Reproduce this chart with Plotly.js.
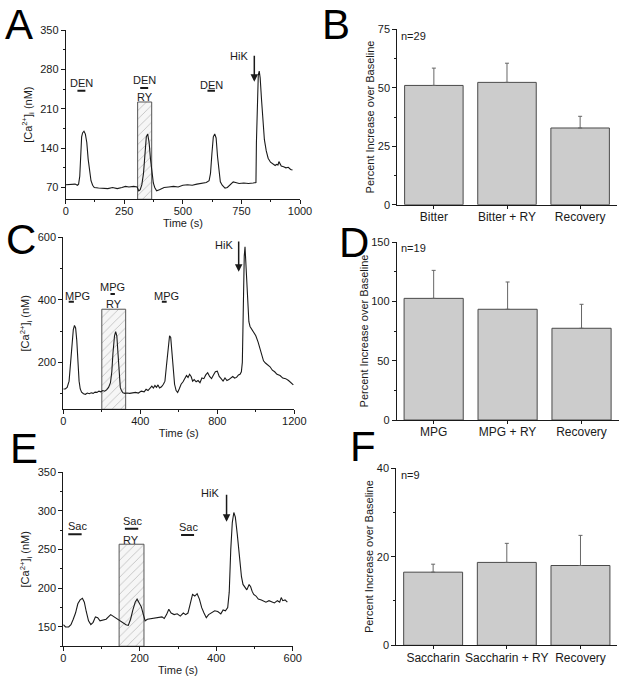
<!DOCTYPE html>
<html>
<head>
<meta charset="utf-8">
<script src="https://cdn.plot.ly/plotly-3.0.1.min.js"></script>
<style>html,body{margin:0;padding:0;background:#fff;}#chart{width:625px;height:686px;}</style>
</head>
<body>
<div id="chart"></div>
<script>
// ---------- Panel A : DEN (bitter) trace ----------
const timeA = [0,20,40,50,55,60,64,68,72,78,84,90,96,102,108,115,122,140,160,180,200,220,240,255,270,290,305,312,318,325,332,338,344,350,356,362,368,374,380,388,400,420,440,460,480,500,520,540,560,580,600,612,618,624,630,636,642,648,654,660,668,680,690,700,715,725,740,760,780,800,812,814,818,822,826,830,836,842,848,856,864,874,884,894,900,906,910,914,920,930,940,950,960,968];
const caA =   [75,75,76,74,76,90,130,160,167,170,165,150,120,95,82,74,70,69,69,68,70,68,70,72,71,72,71,64,66,75,95,130,160,165,150,120,95,78,70,64,66,70,71,72,71,74,75,74,76,78,79,82,95,130,160,165,158,125,95,80,74,69,70,74,80,79,77,78,77,78,79,150,240,270,277,265,225,185,155,135,122,115,112,109,111,110,116,112,108,107,105,106,102,101];
// ---------- Panel C : MPG trace ----------
const timeC = [0,10,20,30,38,45,52,58,64,70,76,82,88,95,105,115,125,135,145,155,165,175,185,195,205,215,225,235,245,252,258,266,272,278,284,290,296,302,310,320,330,345,360,375,390,405,420,430,440,450,460,468,476,484,492,500,510,520,528,536,544,552,558,564,570,578,586,594,602,612,622,632,640,648,656,664,672,680,690,700,710,720,730,740,750,760,770,780,790,800,810,820,830,840,850,860,870,880,890,900,910,918,925,930,933,936,940,944,948,952,958,964,970,985,1000,1012,1022,1032,1040,1050,1062,1074,1086,1098,1110,1126,1140,1155,1170,1182,1195];
const caC =   [115,115,120,140,200,270,305,318,310,270,200,140,115,105,100,98,102,100,103,101,105,104,108,106,110,108,112,120,135,170,230,285,298,285,230,160,120,110,103,101,102,101,103,104,102,108,106,114,110,118,124,118,126,120,128,118,122,130,140,190,250,285,280,240,180,130,110,104,115,130,138,148,158,152,162,155,140,145,138,142,135,150,148,160,167,155,148,160,170,172,155,148,140,150,142,145,150,155,150,152,160,162,170,200,300,440,540,570,520,450,380,330,315,300,285,265,240,215,205,198,192,186,175,170,162,158,150,148,142,135,128];
// ---------- Panel E : Saccharin trace ----------
const timeE = [0,6,14,20,26,32,38,44,50,55,60,66,72,78,84,90,96,104,112,118,124,130,136,142,150,158,164,170,176,182,188,193,198,204,210,214,220,230,240,250,258,264,270,276,282,290,298,306,314,320,326,332,338,344,350,356,362,368,374,380,388,396,404,412,418,424,430,434,438,442,446,450,455,460,466,470,476,480,486,490,494,498,504,510,518,524,530,538,546,552,560,566,570,574,580,586];
const caE =   [153,150,150,153,160,168,180,185,187,182,170,158,153,156,163,162,158,159,160,163,166,164,162,160,158,155,153,152,160,172,182,186,182,176,165,158,160,161,162,163,163,161,166,173,168,166,167,164,168,166,168,180,192,190,193,186,175,168,162,166,169,171,170,167,172,171,175,195,250,285,298,292,270,245,215,205,200,198,205,202,196,192,190,186,185,183,182,184,182,181,184,182,188,184,185,182];

// ---------- Bar panels ----------
const catsB = ['Bitter', 'Bitter + RY', 'Recovery'];
const meanB = [51.0, 52.3, 32.8];
const errB  = [7.4, 8.2, 5.0];
const catsD = ['MPG', 'MPG + RY', 'Recovery'];
const meanD = [102.5, 93.3, 77.3];
const errD  = [23.6, 23.0, 20.2];
const catsF = ['Saccharin', 'Saccharin + RY', 'Recovery'];
const meanF = [16.5, 18.7, 18.0];
const errF  = [1.8, 4.3, 6.8];
const nLabels = ['n=29', 'n=19', 'n=9'];

// ---------- Stimulus annotations ----------
const stimTextA = ['DEN', 'DEN', 'DEN'];
const stimTextXA = [68, 336, 623];
const stimTextYA = [256, 261, 253];
const stimBarX0A = [50, 318, 605];
const stimBarX1A = [84, 352, 637];
const stimBarYA  = [242, 247, 242];
const ryBoxA = [307, 367, 222];      // start, end, top
const ryTextA = [337, 231];
const hikA = [805, 307, 258, 787, 304]; // arrow x, tail y, tip y, text x (right end), text y

const stimTextC = ['MPG', 'MPG', 'MPG'];
const stimTextXC = [72, 258, 535];
const stimTextYC = [412, 442, 412];
const stimBarX0C = [28, 245, 512];
const stimBarX1C = [55, 268, 537];
const stimBarYC  = [394, 419, 394];
const ryBoxC = [200, 324, 370];
const ryTextC = [262, 387];
const hikC = [911, 591, 490, 892, 575];

const stimTextE = ['Sac', 'Sac', 'Sac'];
const stimTextXE = [38, 180, 327];
const stimTextYE = [281, 287, 279];
const stimBarX0E = [13, 161, 308];
const stimBarX1E = [48, 196, 342];
const stimBarYE  = [270, 277, 269];
const ryBoxE = [146, 211, 257];
const ryTextE = [178, 263];
const hikE = [427, 323, 286, 412, 323];

const rangeA = [49, 350], rangeC = [50, 600], rangeE = [125, 350];

const FONT = 'Liberation Sans, Arial, sans-serif';
const INK = '#1a1a1a';

function pxX(a, b) { return [a / 625, b / 625]; }
function pxY(top, bottom) { return [1 - bottom / 686, 1 - top / 686]; }

function baseAxis(extra) {
  return Object.assign({
    showline: true, linecolor: INK, linewidth: 1, mirror: false,
    ticks: 'outside', ticklen: 4, tickwidth: 1, tickcolor: INK,
    showgrid: false, zeroline: false,
    tickfont: {family: FONT, size: 11, color: INK},
    fixedrange: true
  }, extra);
}

const traces = [];
function ryTrace(box, rng, xa, ya) {
  traces.push({
    type: 'scatter', mode: 'lines', xaxis: xa, yaxis: ya,
    x: [box[0], box[1], box[1], box[0], box[0]],
    y: [rng[0], rng[0], box[2], box[2], rng[0]],
    fill: 'toself', fillcolor: '#f4f4f4',
    fillpattern: {shape: '/', fgcolor: '#a8a8a8', bgcolor: '#f6f6f6', size: 6, solidity: 0.1},
    line: {color: '#555', width: 1}, hoverinfo: 'skip'
  });
}
function lineTrace(x, y, xa, ya) {
  traces.push({type: 'scatter', mode: 'lines', x: x, y: y, xaxis: xa, yaxis: ya,
    line: {color: INK, width: 1.1}, hoverinfo: 'skip'});
}
function barTrace(cats, mean, err, xa, ya) {
  traces.push({type: 'bar', x: cats, y: mean, xaxis: xa, yaxis: ya,
    marker: {color: '#cccccc', line: {color: '#4a4a4a', width: 1}},
    error_y: {type: 'data', symmetric: false, array: err, arrayminus: err.map(() => 0),
      color: '#666', thickness: 1, width: 2},
    hoverinfo: 'skip'});
}

ryTrace(ryBoxA, rangeA, 'x', 'y');
lineTrace(timeA, caA, 'x', 'y');
barTrace(catsB, meanB, errB, 'x2', 'y2');
ryTrace(ryBoxC, rangeC, 'x3', 'y3');
lineTrace(timeC, caC, 'x3', 'y3');
barTrace(catsD, meanD, errD, 'x4', 'y4');
ryTrace(ryBoxE, rangeE, 'x5', 'y5');
lineTrace(timeE, caE, 'x5', 'y5');
barTrace(catsF, meanF, errF, 'x6', 'y6');

const annotations = [];
const shapes = [];
function stimAnn(texts, tx, ty, bx0, bx1, by, ry, hik, xa, ya) {
  for (let i = 0; i < texts.length; i++) {
    annotations.push({xref: xa, yref: ya, x: tx[i], y: ty[i], text: texts[i], showarrow: false,
      font: {family: FONT, size: 11, color: INK}, xanchor: 'center', yanchor: 'middle'});
    shapes.push({type: 'line', xref: xa, yref: ya, x0: bx0[i], x1: bx1[i], y0: by[i], y1: by[i],
      line: {color: INK, width: 2}});
  }
  annotations.push({xref: xa, yref: ya, x: ry[0], y: ry[1], text: 'RY', showarrow: false,
    font: {family: FONT, size: 11, color: INK}, xanchor: 'center', yanchor: 'middle'});
  // HiK label with its arrow (arrow drawn from the label position)
  annotations.push({xref: xa, yref: ya, x: hik[0], y: hik[2], ax: hik[0], ay: hik[1],
    axref: xa, ayref: ya, text: '', showarrow: true, arrowhead: 2, arrowsize: 1, arrowwidth: 1.5,
    arrowcolor: INK, standoff: 0});
  annotations.push({xref: xa, yref: ya, x: hik[3], y: hik[4], text: 'HiK', showarrow: false,
    font: {family: FONT, size: 11, color: INK}, xanchor: 'right', yanchor: 'middle'});
}
stimAnn(stimTextA, stimTextXA, stimTextYA, stimBarX0A, stimBarX1A, stimBarYA, ryTextA, hikA, 'x', 'y');
stimAnn(stimTextC, stimTextXC, stimTextYC, stimBarX0C, stimBarX1C, stimBarYC, ryTextC, hikC, 'x3', 'y3');
stimAnn(stimTextE, stimTextXE, stimTextYE, stimBarX0E, stimBarX1E, stimBarYE, ryTextE, hikE, 'x5', 'y5');

// n labels
[['x2', 'y2', 0.96], ['x4', 'y4', 0.965], ['x6', 'y6', 0.96]].forEach((r, i) => {
  annotations.push({xref: r[0] + ' domain', yref: r[1] + ' domain', x: 0.01, y: r[2],
    text: nLabels[i], showarrow: false, xanchor: 'left', yanchor: 'middle',
    font: {family: FONT, size: 11, color: INK}});
});

// panel letters (top-anchored)
const letters = ['A', 'B', 'C', 'D', 'E', 'F'];
const letterPos = [[4, 0], [321, 0], [5, 215], [338, 218], [9, 424], [349, 422]];
letters.forEach((L, i) => {
  annotations.push({xref: 'paper', yref: 'paper', x: letterPos[i][0] / 625, y: 1 - letterPos[i][1] / 686,
    text: L, showarrow: false, xanchor: 'left', yanchor: 'top', borderpad: 0,
    font: {family: FONT, size: 42, color: '#000'}});
});

const caTitle = {text: '[Ca<sup>2+</sup>]<sub>i</sub> (nM)', font: {family: FONT, size: 11, color: INK}, standoff: 5};
const pctTitle = {text: 'Percent Increase over Baseline', font: {family: FONT, size: 11, color: INK}, standoff: 0};
const timeTitle = {text: 'Time (s)', font: {family: FONT, size: 11, color: INK}, standoff: 3};

const xTimeExtra = {ticklabelstandoff: -3};
const catExtra = {ticklen: 3, ticklabelstandoff: -2, tickfont: {family: FONT, size: 12, color: INK}};

const layout = {
  width: 625, height: 686,
  margin: {l: 0, r: 0, t: 0, b: 0},
  paper_bgcolor: '#fff', plot_bgcolor: 'rgba(0,0,0,0)',
  showlegend: false, bargap: 0.2,
  font: {family: FONT, color: INK},
  xaxis: baseAxis(Object.assign({domain: pxX(65.7, 300), anchor: 'y', range: [0, 1000], tick0: 0, dtick: 250,
    minor: {ticks: 'outside', ticklen: 2, tickcolor: INK, dtick: 125}, title: timeTitle}, xTimeExtra)),
  yaxis: baseAxis({domain: pxY(30, 199.3), anchor: 'x', range: rangeA, tick0: 0, dtick: 70,
    minor: {ticks: 'outside', ticklen: 2, tickcolor: INK, dtick: 35}, title: caTitle}),
  xaxis2: baseAxis(Object.assign({domain: pxX(397.3, 616.7), anchor: 'y2', range: [-0.5, 2.5]}, catExtra)),
  yaxis2: baseAxis({domain: pxY(29.3, 204.7), anchor: 'x2', range: [0, 75], tick0: 0, dtick: 25,
    minor: {ticks: 'outside', ticklen: 2, tickcolor: INK, dtick: 12.5}, title: pctTitle}),
  xaxis3: baseAxis(Object.assign({domain: pxX(63.3, 294.3), anchor: 'y3', range: [0, 1200], tick0: 0, dtick: 400,
    minor: {ticks: 'outside', ticklen: 2, tickcolor: INK, dtick: 200}, title: timeTitle}, xTimeExtra)),
  yaxis3: baseAxis({domain: pxY(237.3, 409.3), anchor: 'x3', range: rangeC, tick0: 0, dtick: 200,
    minor: {ticks: 'outside', ticklen: 2, tickcolor: INK, dtick: 100}, title: caTitle}),
  xaxis4: baseAxis(Object.assign({domain: pxX(396.7, 618.5), anchor: 'y4', range: [-0.5, 2.5]}, catExtra)),
  yaxis4: baseAxis({domain: pxY(242, 420), anchor: 'x4', range: [0, 150], tick0: 0, dtick: 50,
    minor: {ticks: 'outside', ticklen: 2, tickcolor: INK, dtick: 25}, title: pctTitle}),
  xaxis5: baseAxis(Object.assign({domain: pxX(63.3, 292.7), anchor: 'y5', range: [0, 600], tick0: 0, dtick: 200,
    minor: {ticks: 'outside', ticklen: 2, tickcolor: INK, dtick: 100}, title: timeTitle}, xTimeExtra)),
  yaxis5: baseAxis({domain: pxY(472.3, 646.3), anchor: 'x5', range: rangeE, tick0: 0, dtick: 50,
    minor: {ticks: 'outside', ticklen: 2, tickcolor: INK, dtick: 25}, title: caTitle}),
  xaxis6: baseAxis(Object.assign({domain: pxX(396.3, 617.3), anchor: 'y6', range: [-0.5, 2.5]}, catExtra)),
  yaxis6: baseAxis({domain: pxY(468, 645.3), anchor: 'x6', range: [0, 40], tick0: 0, dtick: 20,
    minor: {ticks: 'outside', ticklen: 2, tickcolor: INK, dtick: 10}, title: pctTitle}),
  annotations: annotations,
  shapes: shapes
};

Plotly.newPlot('chart', traces, layout, {staticPlot: true, displayModeBar: false});
</script>
</body>
</html>
